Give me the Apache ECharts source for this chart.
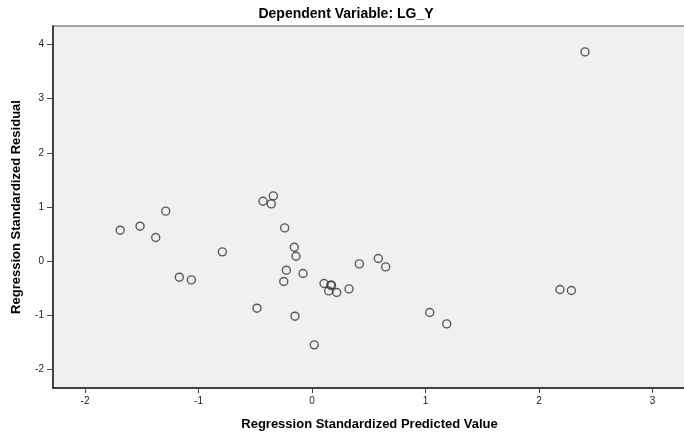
<!DOCTYPE html>
<html>
<head>
<meta charset="utf-8">
<script src="https://cdn.jsdelivr.net/npm/echarts@6/dist/echarts.min.js"></script>
<style>
  html, body { margin: 0; padding: 0; background: #fff; }
  #chart { width: 684px; height: 434px; }
</style>
</head>
<body>
<div id="chart"></div>
<script>
// standardized predicted values (x) and standardized residuals (y)
const predicted = [
  -1.69, -1.515, -1.377, -1.289, -1.169, -1.063, -0.79, -0.485, -0.432, -0.341, -0.359,
  -0.241, -0.156, -0.141, -0.226, -0.249, -0.079, -0.15, 0.02, 0.106, 0.165, 0.172,
  0.147, 0.218, 0.326, 0.417, 0.584, 0.649, 1.037, 1.187, 2.185, 2.285, 2.405
];
const residuals = [
  0.572, 0.646, 0.437, 0.923, -0.295, -0.345, 0.172, -0.867, 1.107, 1.205, 1.057,
  0.614, 0.258, 0.092, -0.166, -0.375, -0.227, -1.015, -1.544, -0.411, -0.443, -0.443,
  -0.548, -0.577, -0.511, -0.05, 0.05, -0.105, -0.946, -1.157, -0.522, -0.541, 3.862
];
const xTicks = [-2, -1, 0, 1, 2, 3];
const yTicks = [-2, -1, 0, 1, 2, 3, 4];

const points = predicted.map((x, i) => [x, residuals[i]]);

const chart = echarts.init(document.getElementById('chart'));
const font = 'Liberation Sans, Arial, sans-serif';

chart.setOption({
  animation: false,
  title: {
    text: 'Dependent Variable: LG_Y',
    left: 341,
    textAlign: 'center',
    top: 2,
    textStyle: { fontFamily: font, fontSize: 14, fontWeight: 'bold', color: '#000' },
  },
  grid: {
    left: 53,
    top: 26,
    width: 633,
    height: 362,
    outerBoundsMode: 'none',
    containLabel: false,
    show: true,
    backgroundColor: '#f0f0f0',
    borderColor: '#888',
    borderWidth: 1.5,
  },
  xAxis: {
    type: 'value',
    min: -2.282,
    max: 3.295,
    name: 'Regression Standardized Predicted Value',
    nameLocation: 'middle',
    nameGap: 30,
    nameTextStyle: { fontFamily: font, fontSize: 13, fontWeight: 'bold', color: '#000' },
    splitLine: { show: false },
    axisLine: { onZero: false, lineStyle: { color: '#222', width: 1.5 } },
    axisTick: { show: true, length: 5, customValues: xTicks, lineStyle: { color: '#444' } },
    axisLabel: { customValues: xTicks, fontFamily: font, fontSize: 10, color: '#222', margin: 8 },
  },
  yAxis: {
    type: 'value',
    min: -2.34,
    max: 4.34,
    name: 'Regression Standardized Residual',
    nameLocation: 'middle',
    nameGap: 30,
    nameTextStyle: { fontFamily: font, fontSize: 13, fontWeight: 'bold', color: '#000' },
    splitLine: { show: false },
    axisLine: { onZero: false, lineStyle: { color: '#222', width: 1.5 } },
    axisTick: { show: true, length: 6, customValues: yTicks, lineStyle: { color: '#444' } },
    axisLabel: { customValues: yTicks, fontFamily: font, fontSize: 10, color: '#222', margin: 9 },
  },
  series: [
    {
      type: 'scatter',
      data: points,
      symbol: 'circle',
      symbolSize: 8,
      itemStyle: { color: 'rgba(0,0,0,0)', borderColor: '#333', borderWidth: 1.4 },
    },
  ],
});
</script>
</body>
</html>
